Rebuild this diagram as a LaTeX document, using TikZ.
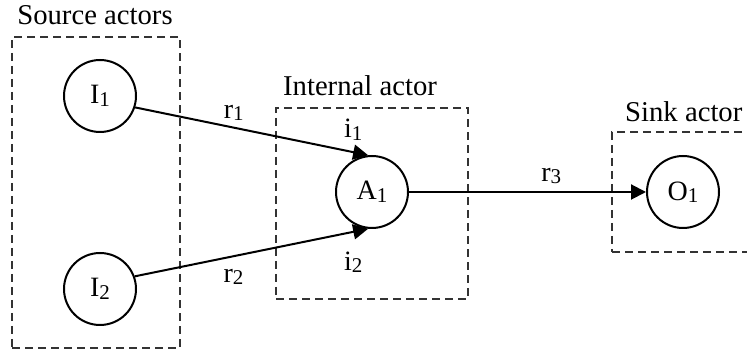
\documentclass[tikz,border=0pt]{standalone}
\usepackage{fontspec}
\setmainfont{Liberation Serif}
\usetikzlibrary{arrows.meta, positioning}
\newcommand\idx[1]{\raisebox{-2.5pt}{\fontsize{21}{24}\selectfont #1}}

\begin{document}
\begin{tikzpicture}[
  x=1pt, y=1pt,
  actor/.style={circle, draw, line width=2pt, minimum size=72pt, inner sep=0pt, font=\fontsize{28}{32}\selectfont},
  group/.style={rectangle, draw=black!80, line width=1.6pt, dash pattern=on 8pt off 5pt, inner sep=0pt},
  title/.style={anchor=base, inner sep=0pt, font=\fontsize{28.7}{34}\selectfont},
  port/.style={inner sep=0pt, font=\fontsize{28}{32}\selectfont},
  arrow/.style={-{Triangle[length=15pt, width=15pt]}, line width=2pt}
]
\useasboundingbox (0,0) rectangle (747,352);

% Groups
\node[group, minimum width=168pt, minimum height=311pt] (src) at (96,159.5) {};
\node[group, minimum width=192pt, minimum height=191pt] (int) at (372,148.5) {};
\node[group, minimum width=148pt, minimum height=120pt] (snk) at (686,160) {};
\node[title] (srctitle) at (95,327) {Source actors};
\node[title] (inttitle) at (360,256) {Internal actor};
\node[title, anchor=base west] (snktitle) at (625,230) {Sink actor};

% Actors
\node[actor] (I1) at (100,256) {I\idx{1}};
\node[actor] (I2) at (100,63) {I\idx{2}};
\node[actor] (A1) at (372,160) {A\idx{1}};
\node[actor] (O1) at (683,160) {O\idx{1}};

% Channels
\draw[arrow] (I1.-18) -- node[port, pos=0.423, above=6pt] (r1) {r\idx{1}}
  node[port, pos=0.936, above=11pt] (i1) {i\idx{1}} (A1.96);
\draw[arrow] (I2.20) -- node[port, pos=0.423, below=12pt] (r2) {r\idx{2}}
  node[port, pos=0.936, below=19pt] (i2) {i\idx{2}} (A1.264);
\draw[arrow] (A1) -- node[port, pos=0.6, above=7pt] (r3) {r\idx{3}} (O1);
\end{tikzpicture}
\end{document}
